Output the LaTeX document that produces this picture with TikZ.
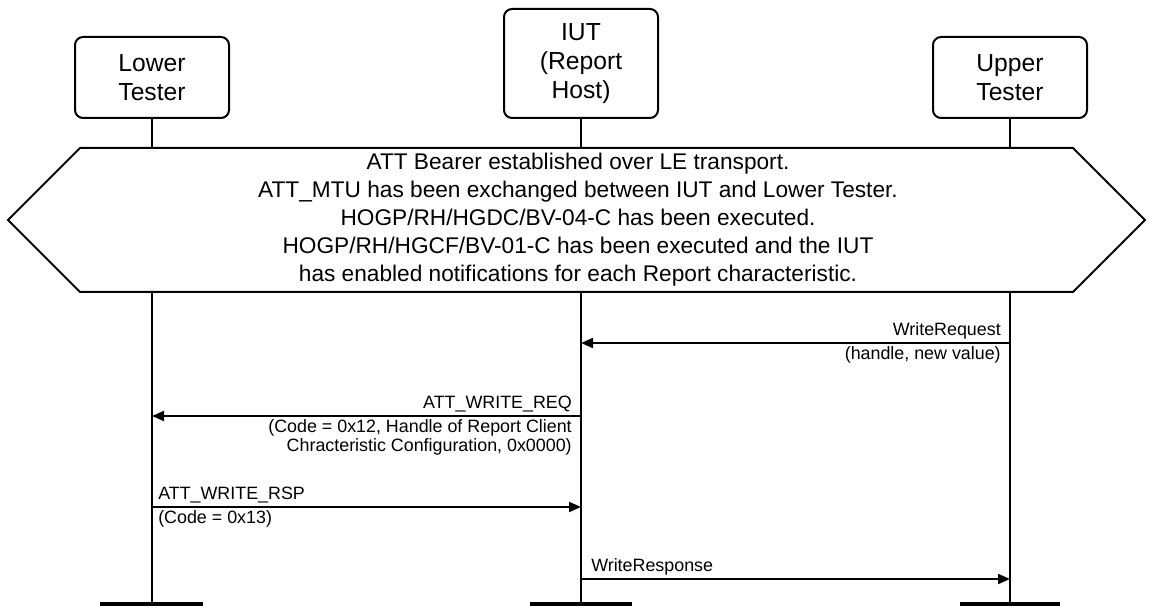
\documentclass[tikz,border=0pt]{standalone}
\usepackage{fontspec}
\setmainfont{Liberation Sans}
\usetikzlibrary{arrows.meta, positioning, calc}

\begin{document}
\begin{tikzpicture}[
    x=0.75pt, y=-0.75pt,
    actor/.style={rectangle, draw, rounded corners=6pt, line width=1.5pt, minimum width=115.5pt, minimum height=60.75pt, align=center, font=\fontsize{18.5}{21.75}\selectfont},
    lifeline/.style={line width=1.5pt},
    endbar/.style={line width=3pt},
    msg/.style={line width=1.5pt, -{Triangle[length=9pt,width=7.5pt]}},
    lbl/.style={inner sep=1.5pt, font=\fontsize{13.4}{14.4}\selectfont},
]
\useasboundingbox (0,0) rectangle (1153,609);

% Actors
\node (lower) [actor, anchor=south] at (152,119) {Lower\\Tester};
\node (iut) [actor, anchor=south, minimum height=81.75pt] at (581,119) {IUT\\(Report\\Host)};
\node (upper) [actor, anchor=south] at (1010,119) {Upper\\Tester};

% Lifeline ends
\coordinate (lowerend) at (152,604);
\coordinate (iutend) at (581,604);
\coordinate (upperend) at (1010,604);

% Lifelines
\draw [lifeline] (lower) -- (lowerend);
\draw [lifeline] (iut) -- (iutend);
\draw [lifeline] (upper) -- (upperend);

% End bars
\draw [endbar] ($(lowerend)+(-52,0)$) -- ($(lowerend)+(51,0)$);
\draw [endbar] ($(iutend)+(-51,0)$) -- ($(iutend)+(51,0)$);
\draw [endbar] ($(upperend)+(-50,0)$) -- ($(upperend)+(50,0)$);

% Preamble condition
\draw [line width=1.5pt, fill=white] (8,220) -- (80,148) -- (1073,148) -- (1145,220) -- (1073,292) -- (80,292) -- cycle;
\node (pre) [align=center, font=\fontsize{17}{21}\selectfont] at (578,220) {ATT Bearer established over LE transport.\\ATT\_MTU has been exchanged between IUT and Lower Tester.\\HOGP/RH/HGDC/BV-04-C has been executed.\\HOGP/RH/HGCF/BV-01-C has been executed and the IUT\\has enabled notifications for each Report characteristic.};

% Messages
\coordinate (m1u) at (1010,343);
\coordinate (m1i) at (581,343);
\draw [msg] (m1u) -- (m1i);
\node (m1a) [lbl, anchor=south east] at (1003,341) {WriteRequest};
\node (m1b) [lbl, anchor=north east] at (1003,344) {(handle, new value)};

\coordinate (m2i) at (581,416);
\coordinate (m2l) at (152,416);
\draw [msg] (m2i) -- (m2l);
\node (m2a) [lbl, anchor=south east] at (574,414) {ATT\_WRITE\_REQ};
\node (m2b) [lbl, anchor=north east, align=right] at (574,417) {(Code = 0x12, Handle of Report Client\\Chracteristic Configuration, 0x0000)};

\coordinate (m3l) at (152,507);
\coordinate (m3i) at (581,507);
\draw [msg] (m3l) -- (m3i);
\node (m3a) [lbl, anchor=south west] at (156,505) {ATT\_WRITE\_RSP};
\node (m3b) [lbl, anchor=north west] at (156,508) {(Code = 0x13)};

\coordinate (m4i) at (581,579);
\coordinate (m4u) at (1010,579);
\draw [msg] (m4i) -- (m4u);
\node (m4a) [lbl, anchor=south west] at (589,577) {WriteResponse};

\end{tikzpicture}
\end{document}
